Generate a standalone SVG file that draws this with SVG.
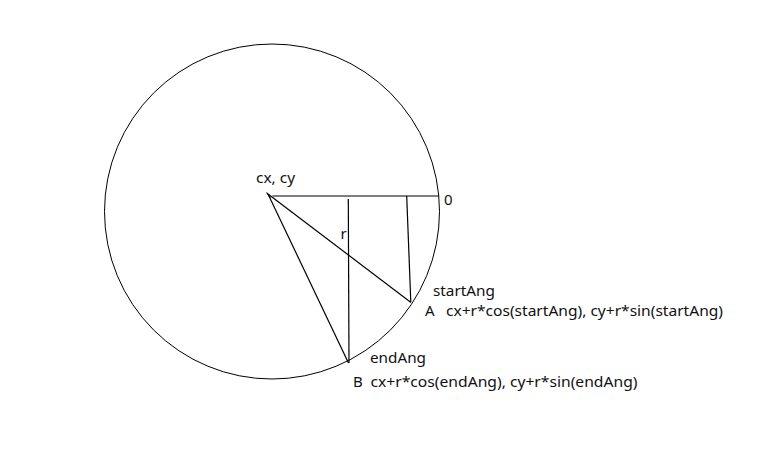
<svg xmlns="http://www.w3.org/2000/svg" width="780" height="459" viewBox="0 0 780 459">
<style>
text{font-family:"Microsoft YaHei","Noto Sans","Open Sans",sans-serif;font-size:15px;fill:#111}
.ln{stroke:#000;fill:none;stroke-width:1.2}
</style>
<rect width="780" height="459" fill="#fff"/>
<g id="circle"><circle cx="272" cy="211.5" r="167.5" fill="none" stroke="#000" stroke-width="1"/></g>
<g id="connectors">
<line class="ln" x1="266.5" y1="192.5" x2="270.5" y2="197.5"/>
<line class="ln" x1="272.5" y1="196" x2="439" y2="196" stroke-width="1.5"/>
<line class="ln" x1="268" y1="194" x2="411" y2="302.5"/>
<line class="ln" x1="268" y1="194" x2="348.5" y2="363"/>
<line class="ln" x1="348.3" y1="199" x2="349" y2="363" stroke-width="1.5"/>
<line class="ln" x1="406.7" y1="196" x2="410.8" y2="302" stroke-width="1.5"/>
</g>
<g id="center"><text x="256" y="183" textLength="39" lengthAdjust="spacingAndGlyphs">cx, cy</text></g>
<g id="zero"><text x="444" y="205">0</text></g>
<g id="radius"><text x="340.5" y="239">r</text></g>
<g id="pointA">
<text x="433" y="296" textLength="62" lengthAdjust="spacingAndGlyphs">startAng</text>
<text x="425" y="316">A</text>
<text x="446" y="316" textLength="277" lengthAdjust="spacingAndGlyphs">cx+r*cos(startAng), cy+r*sin(startAng)</text>
</g>
<g id="pointB">
<text x="370" y="363" textLength="56" lengthAdjust="spacingAndGlyphs">endAng</text>
<text x="353" y="386.5">B</text>
<text x="370.5" y="386.5" textLength="267" lengthAdjust="spacingAndGlyphs">cx+r*cos(endAng), cy+r*sin(endAng)</text>
</g>
</svg>
